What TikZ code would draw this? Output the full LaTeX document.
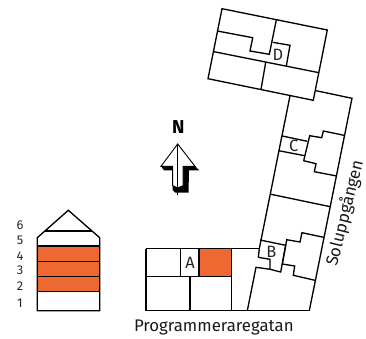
\documentclass[tikz,border=0pt]{standalone}
\usepackage{fontspec}
\setmainfont{Fira Sans}
\definecolor{flr}{HTML}{EE6931}
\tikzset{
  plan/.style={draw=black,line width=1pt,line join=miter},
  wall/.style={draw=black,line width=1pt},
  lab/.style={font=\fontsize{12.3pt}{14pt}\selectfont,text=black!85,inner sep=0pt},
  num/.style={font=\fontsize{9.6pt}{11pt}\selectfont,text=black!85,inner sep=0pt},
  street/.style={font=\fontsize{12.6pt}{14pt}\selectfont,text=black!90,inner sep=0pt},
}
\begin{document}
\begin{tikzpicture}[x=0.75pt,y=-0.75pt]
\useasboundingbox (0,0) rectangle (366,338);
% floor stack
\fill[flr] (37.3,246) rectangle (99.7,291.7);
\draw[plan] (37.3,237.7) -- (68.3,210.3) -- (99.7,237.7) -- (99.7,310.7) -- (37.3,310.7) -- cycle;
\draw[wall] (45,231) -- (91.7,231);
\draw[wall] (37.3,246) -- (99.7,246);
\draw[wall] (37.3,261.3) -- (99.7,261.3);
\draw[wall] (37.3,276.3) -- (99.7,276.3);
\draw[wall] (37.3,291.7) -- (99.7,291.7);
\node[num] (n6) at (20,225.3) {6};
\node[num] (n5) at (20,240.7) {5};
\node[num] (n4) at (20,255.7) {4};
\node[num] (n3) at (20,270.7) {3};
\node[num] (n2) at (20,286) {2};
\node[num] (n1) at (20,303) {1};
% plan: south wing
\fill[flr] (199,248.7) rectangle (231.3,276.7);
\draw[plan] (146,248.7) -- (259.3,248.7);
\draw[plan] (146,248.7) -- (146,310.7) -- (309.3,310.7);
\draw[wall] (180.7,248.7) -- (180.7,276.7);
\draw[wall] (146,276.7) -- (231.3,276.7);
\draw[wall] (199,248.7) -- (199,276.7);
\draw[wall] (190,276.7) -- (190,310.7);
\draw[wall] (231.3,248.7) -- (231.3,310.7);
% plan: long wing
\draw[plan] (290,95.7) -- (259.3,248.7);
\draw[plan] (316,90.7) -- (352,98.3) -- (309.3,310.7);
\draw[wall] (271,194.3) -- (330.3,206.7);
% C
\draw[wall] (282.3,136) -- (307.3,141.3);
\draw[wall] (278.7,150.7) -- (304.7,155.7);
\draw[wall] (344,135.3) -- (323.3,131) -- (321.7,137.7) -- (309.7,135.7) -- (303.7,160.7) -- (316,163.7) -- (314.3,171.7) -- (336.7,176);
% B
\draw[wall] (260,240) -- (285.7,245.3) -- (280.7,272) -- (270,269.3) -- (256,267.3) -- (247.3,310.7);
\draw[wall] (258.3,257.3) -- (270,259.3) -- (270,269.3);
\draw[wall] (259.3,248.7) -- (258.3,257.3);
\draw[wall] (323.7,237.3) -- (302,232.7) -- (300,242) -- (286.7,239.7) -- (282.3,264) -- (294.7,266) -- (293.3,275.3) -- (315,280.3);
% D block
\draw[plan] (222,8.7) -- (327.3,30) -- (313.3,100.3) -- (208,78.7) -- cycle;
\draw[wall] (217.3,31) -- (252.7,37.7) -- (250,51) -- (269.3,54.3) -- (276.3,20);
\draw[wall] (214,51.7) -- (319,72.7);
\draw[wall] (272.7,42.3) -- (290,45.3) -- (286.3,66);
\draw[wall] (265.7,62.3) -- (261,89.3);
\node[lab] (la) at (190,263.3) {A};
\node[lab] (lb) at (271.3,251.7) {B};
\node[lab] (lc) at (293.7,146) {C};
\node[lab] (ld) at (278,55.3) {D};
\node[street] (s1) at (213.8,327) {Programmeraregatan};
\node[street,rotate=76] (s2) at (345,213) {Soluppgången};
\node[font=\fontsize{14pt}{16pt}\selectfont\bfseries,inner sep=0pt] (north) at (178.3,126.7) {N};
% north arrow
\fill[black] (161,166.3) -- (164,170.3) -- (172.7,170.3) -- (172.7,190) -- (175,192.5) -- (188.5,192.5) -- (189,170.3) -- (199.3,170.3) -- (195,166.3) -- (183,160) -- (172,160) -- cycle;
\draw[fill=white,line width=0.7pt] (177.7,144) -- (161,166.3) -- (172.7,166.3) -- (172.7,185.7) -- (177.7,188) -- (183,185.7) -- (183,166.3) -- (195,166.3) -- cycle;
\draw[line width=0.7pt] (177.7,144) -- (177.7,195.3);
\end{tikzpicture}
\end{document}
